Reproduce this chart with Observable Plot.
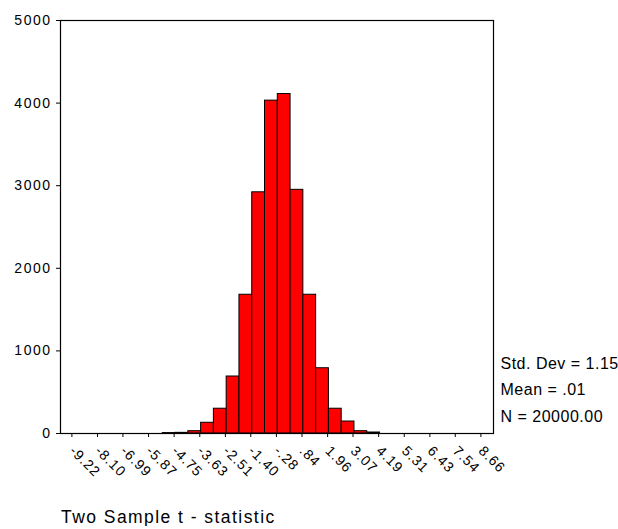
<!DOCTYPE html>
<html><head><meta charset="utf-8">
<script src="https://cdn.jsdelivr.net/npm/d3@7"></script>
<script src="https://cdn.jsdelivr.net/npm/@observablehq/plot@0.6"></script>
<style>
body{margin:0;background:#fff;font-family:"Liberation Sans",Arial,sans-serif;}
#chart svg{display:block;}
g[aria-label="y-axis tick label"]{letter-spacing:1.5px;}
g[aria-label="x-axis tick label"]{letter-spacing:1px;}
g[aria-label="text"]{letter-spacing:0.5px;}
#title{margin:8px 0 0 61px;font-size:17.5px;line-height:18px;letter-spacing:1.45px;color:#000;}
</style></head><body>
<div id="chart"></div>
<div id="title"></div>
<script>
// Histogram structure (SPSS bins): first bin midpoint and bin width
const firstBinCenter = -9.22;
const binWidth = 0.55875;
// Bin indices with visible counts and their counts
const binIndex = [8, 9, 10, 11, 12, 13, 14, 15, 16, 17, 18, 19, 20, 21, 22, 23, 24];
const counts   = [5, 8, 28, 130, 300, 690, 1680, 2920, 4030, 4110, 2950, 1680, 790, 300, 145, 28, 12];
// Axis tick labels
const xTickLabels = ["-9.22","-8.10","-6.99","-5.87","-4.75","-3.63","-2.51","-1.40","-.28",".84","1.96","3.07","4.19","5.31","6.43","7.54","8.66"];
const yTicks = [0, 1000, 2000, 3000, 4000, 5000];
// Summary statistics and axis title
const statLabels = ["Std. Dev = 1.15", "Mean = .01", "N = 20000.00"];
const xTitle = "Two Sample t - statistic";

const bins = binIndex.map((k, i) => ({
  x1: firstBinCenter + (k - 0.5) * binWidth,
  x2: firstBinCenter + (k + 0.5) * binWidth,
  count: counts[i]
}));
const xTickValues = xTickLabels.map(Number);
const labelOf = new Map(xTickValues.map((v, i) => [v, xTickLabels[i]]));

const chart = Plot.plot({
  width: 618,
  height: 500,
  marginLeft: 60,
  marginTop: 20,
  marginRight: 125,
  marginBottom: 67,
  style: {fontFamily: "'Liberation Sans', Arial, sans-serif", color: "#000", background: "#fff", overflow: "visible"},
  x: {domain: [-9.50, 9.43]},
  y: {domain: [0, 5000]},
  marks: [
    Plot.rectY(bins, {x1: "x1", x2: "x2", y: "count", fill: "#ff0000", stroke: "#000", strokeWidth: 1}),
    Plot.frame({stroke: "#000", strokeWidth: 1.2}),
    Plot.axisY({ticks: yTicks, tickSize: 4, tickPadding: 5, fontSize: 14, label: null, tickFormat: d => String(d)}),
    Plot.axisX({ticks: xTickValues, tickSize: 4, tickPadding: 11, dx: 5, tickRotate: 45, textAnchor: "start", fontSize: 14, label: null, tickFormat: d => labelOf.get(d)}),
    Plot.text([statLabels.join("\n")], {
      text: d => d, frameAnchor: "bottom-right", textAnchor: "start", lineAnchor: "bottom",
      lineHeight: 1.656, dx: 7, dy: -12, fontSize: 16, fill: "#000"
    })
  ]
});
document.getElementById("chart").appendChild(chart);
document.getElementById("title").textContent = xTitle;
</script>
</body></html>
